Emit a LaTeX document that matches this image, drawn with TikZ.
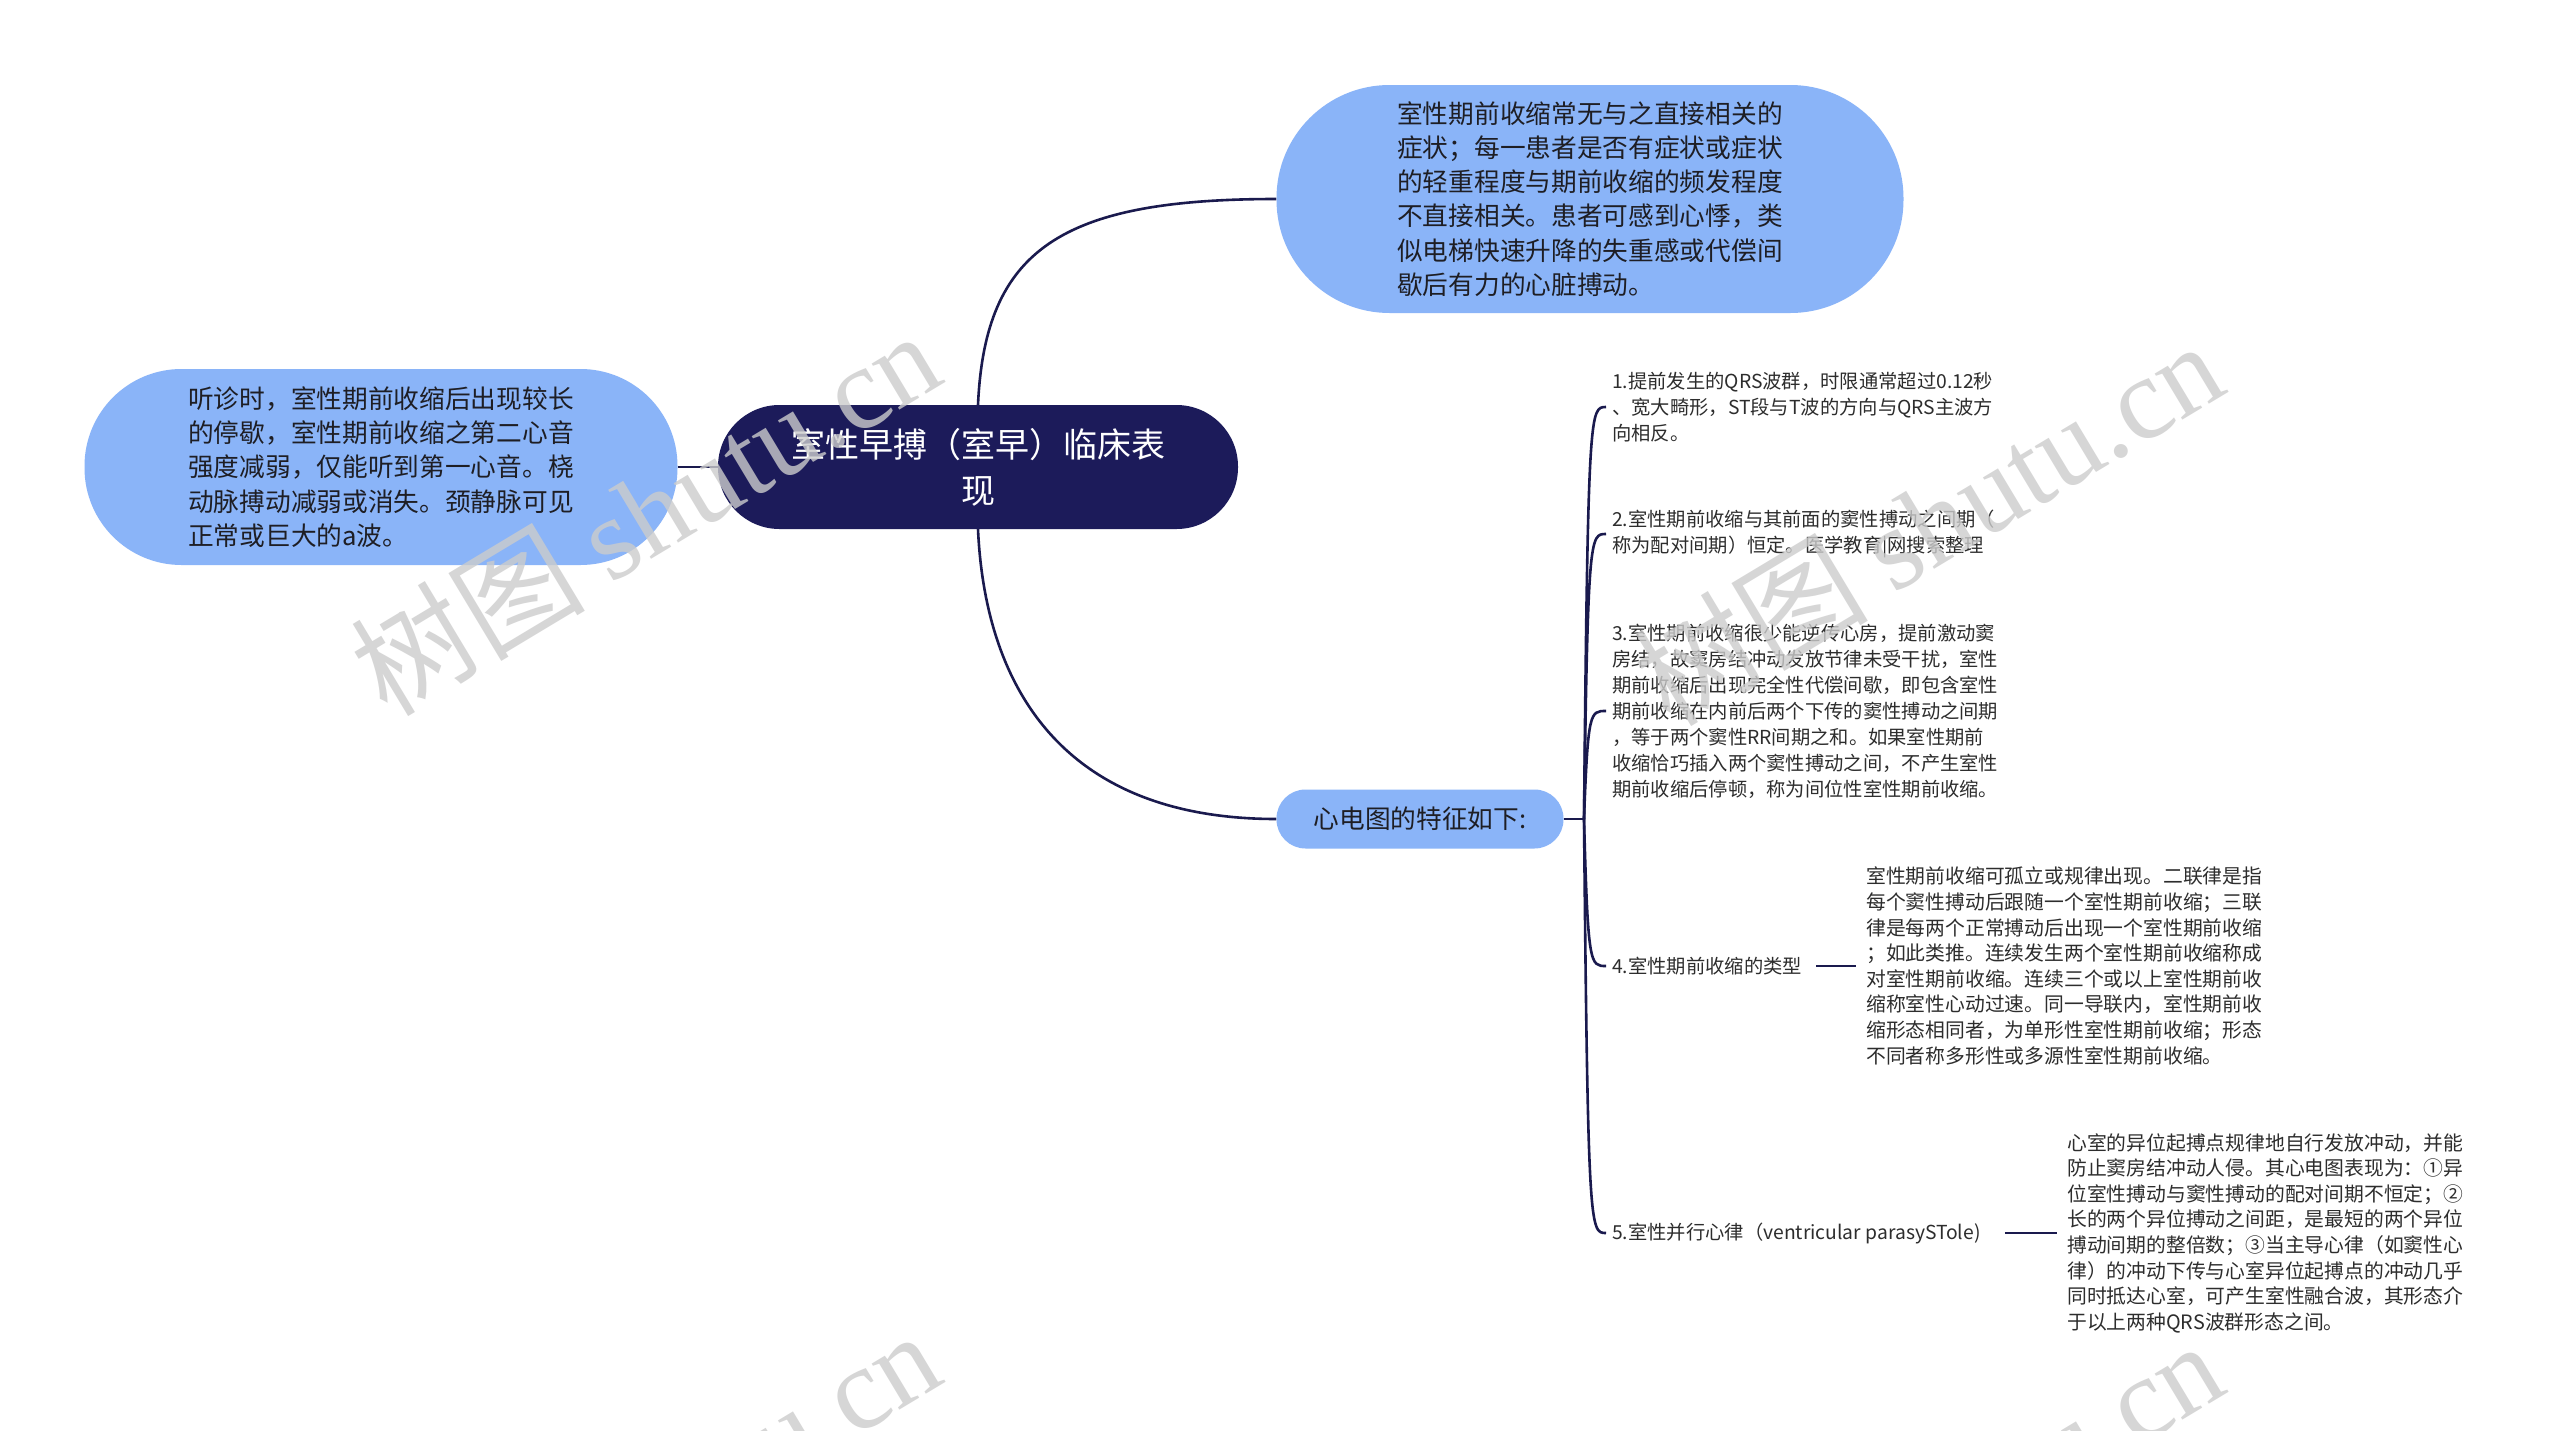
\documentclass[tikz,border=0pt]{standalone}
\usepackage{fontspec}
\setmainfont{Noto Sans CJK SC}
\newfontfamily\wmlat{Liberation Serif}
\usetikzlibrary{backgrounds}
\definecolor{navy}{RGB}{28,27,90}
\definecolor{lblue}{RGB}{138,180,248}
\definecolor{linec}{RGB}{26,26,78}
\definecolor{txt}{RGB}{30,30,36}
\definecolor{leaftxt}{RGB}{45,45,45}
\begin{document}
\begin{tikzpicture}[x=1pt,y=-1pt,
  rootbox/.style={fill=navy, text=white, align=center, font=\fontsize{34}{46}\selectfont, inner sep=0pt},
  bluebox/.style={fill=lblue, text=txt, align=left, font=\fontsize{25.7}{34.3}\selectfont, inner sep=0pt},
  leaf/.style={text=leaftxt, align=left, font=\fontsize{19.3}{26}\selectfont, anchor=west, inner xsep=6pt, inner ysep=0pt},
  gleaf/.style={leaf, font=\fontsize{19.8}{25.6}\selectfont},
  conn/.style={draw=linec, line width=2.6pt},
  wm/.style={text=black!20, opacity=0.8, rotate=31, font=\fontsize{117}{117}\selectfont}
]
\useasboundingbox (0,0) rectangle (2560,1430);
\begin{scope}[on background layer]
\fill[white] (0,0) rectangle (2560,1430);
\end{scope}

\node[rootbox, minimum width=520pt, minimum height=124pt, rounded corners=61.5pt] (root) at (978,467) {室性早搏（室早）临床表\\现};

\node[bluebox, minimum width=627pt, minimum height=228pt, rounded corners=113pt] (top) at (1590,199) {室性期前收缩常无与之直接相关的\\症状；每一患者是否有症状或症状\\的轻重程度与期前收缩的频发程度\\不直接相关。患者可感到心悸，类\\似电梯快速升降的失重感或代偿间\\歇后有力的心脏搏动。};

\node[bluebox, minimum width=593pt, minimum height=196pt, rounded corners=97pt] (left) at (381,467) {听诊时，室性期前收缩后出现较长\\的停歇，室性期前收缩之第二心音\\强度减弱，仅能听到第一心音。桡\\动脉搏动减弱或消失。颈静脉可见\\正常或巨大的a波。};

\node[bluebox, minimum width=287pt, minimum height=59pt, rounded corners=29pt, align=center] (ecg) at (1420,819) {心电图的特征如下:};

\coordinate (hub) at (1584,819);

\node[leaf] (c1) at (1606,407) {1.提前发生的QRS波群，时限通常超过0.12秒\\、宽大畸形，ST段与T波的方向与QRS主波方\\向相反。};
\node[leaf] (c2) at (1606,534) {2.室性期前收缩与其前面的窦性搏动之间期（\\称为配对间期）恒定。医学教育|网搜索整理};
\node[leaf] (c3) at (1606,711) {3.室性期前收缩很少能逆传心房，提前激动窦\\房结，故窦房结冲动发放节律未受干扰，室性\\期前收缩后出现完全性代偿间歇，即包含室性\\期前收缩在内前后两个下传的窦性搏动之间期\\，等于两个窦性RR间期之和。如果室性期前\\收缩恰巧插入两个窦性搏动之间，不产生室性\\期前收缩后停顿，称为间位性室性期前收缩。};
\node[leaf] (c4) at (1606,966) {4.室性期前收缩的类型};
\node[leaf] (c5) at (1606,1233) {5.室性并行心律（ventricular parasySTole)};

\node[gleaf] (g4) at (1860,966) {室性期前收缩可孤立或规律出现。二联律是指\\每个窦性搏动后跟随一个室性期前收缩；三联\\律是每两个正常搏动后出现一个室性期前收缩\\；如此类推。连续发生两个室性期前收缩称成\\对室性期前收缩。连续三个或以上室性期前收\\缩称室性心动过速。同一导联内，室性期前收\\缩形态相同者，为单形性室性期前收缩；形态\\不同者称多形性或多源性室性期前收缩。};
\node[gleaf] (g5) at (2061,1233) {心室的异位起搏点规律地自行发放冲动，并能\\防止窦房结冲动人侵。其心电图表现为：①异\\位室性搏动与窦性搏动的配对间期不恒定；②\\长的两个异位搏动之间距，是最短的两个异位\\搏动间期的整倍数；③当主导心律（如窦性心\\律）的冲动下传与心室异位起搏点的冲动几乎\\同时抵达心室，可产生室性融合波，其形态介\\于以上两种QRS波群形态之间。};

\begin{scope}[on background layer]
\draw[conn] (left.east) -- (root.west);
\draw[conn] (root.north) .. controls (985,250) and (1060,199) .. (top.west);
\draw[conn] (root.south) .. controls (985,684) and (1060,819) .. (ecg.west);
\draw[conn] (ecg.east) -- (hub);
\draw[conn] (hub) .. controls (1588,407) and (1590,407) .. (c1.west);
\draw[conn] (hub) .. controls (1588,534) and (1590,534) .. (c2.west);
\draw[conn] (hub) .. controls (1588,711) and (1590,711) .. (c3.west);
\draw[conn] (hub) .. controls (1588,966) and (1590,966) .. (c4.west);
\draw[conn] (hub) .. controls (1588,1233) and (1590,1233) .. (c5.west);
\draw[conn, shorten <=8pt, shorten >=4pt] (c4.east) -- (g4.west);
\draw[conn, shorten <=18pt, shorten >=4pt] (c5.east) -- (g5.west);
\end{scope}

\begin{scope}
\clip (0,0) rectangle (2560,1430);
\node[wm] (wm1) at (645,512) {树图 {\wmlat shutu.cn}};
\node[wm] (wm2) at (1928,522) {树图 {\wmlat shutu.cn}};
\node[wm] (wm3) at (645,1512) {树图 {\wmlat shutu.cn}};
\node[wm] (wm4) at (1928,1522) {树图 {\wmlat shutu.cn}};
\end{scope}
\end{tikzpicture}
\end{document}
